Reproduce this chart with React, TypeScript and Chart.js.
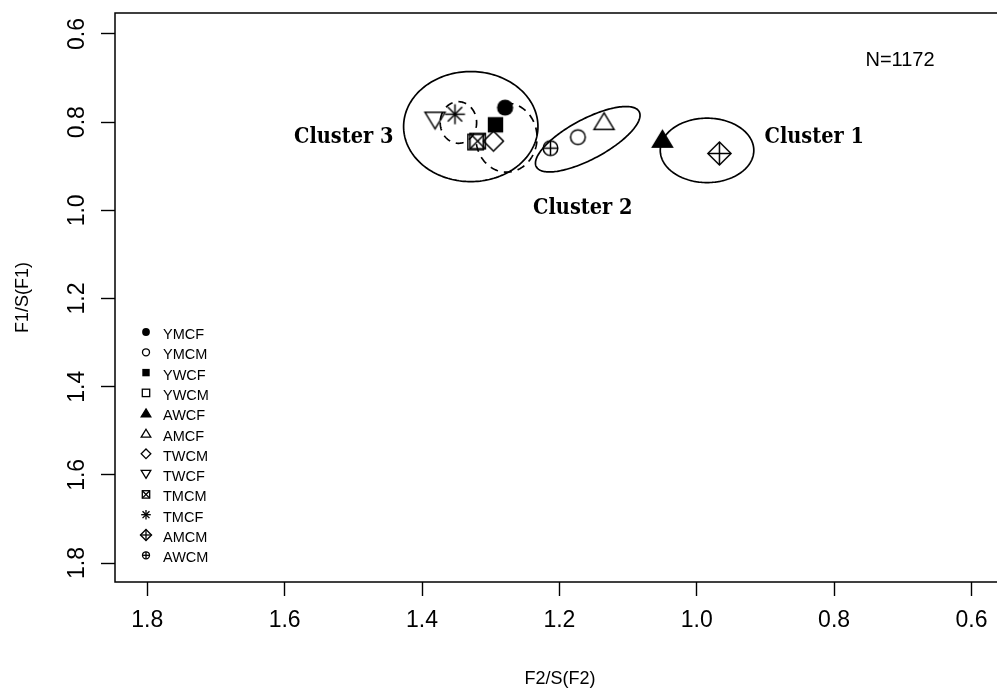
import React, { useEffect, useRef } from "react";
import { Chart, registerables } from "chart.js";

Chart.register(...registerables);

// Group means on the normalised formant plane
const groups = ["YMCF", "YMCM", "YWCF", "YWCM", "AWCF", "AMCF", "TWCM", "TWCF", "TMCM", "TMCF", "AMCM", "AWCM"];
const groupSymbols = ["dot", "circle", "squareFilled", "square", "triFilled", "tri", "diamond", "triDown", "boxX", "star", "diamondPlus", "circlePlus"];
const f2Values = [1.279, 1.173, 1.293, 1.322, 1.05, 1.135, 1.296, 1.381, 1.319, 1.352, 0.967, 1.213];
const f1Values = [0.767, 0.834, 0.806, 0.845, 0.839, 0.799, 0.843, 0.795, 0.843, 0.782, 0.871, 0.859];

// Cluster outlines: centre plus two conjugate semi-axes, all in data units,
// and the share of the turn that is traced
const ellipseCx = [0.985, 1.1587, 1.329, 1.347, 1.277];
const ellipseCy = [0.864, 0.8387, 0.81, 0.8008, 0.835];
const ellipseAx = [0.0681, -0.0749, 0.0978, 0.0265, 0.0445];
const ellipseAy = [0, -0.0624, 0, 0, 0];
const ellipseBx = [0, -0.0136, 0, 0, 0];
const ellipseBy = [0.073, 0.0401, 0.1248, 0.0472, 0.0783];
const ellipseFrom = [0, 0, 0, 0, 0.03];
const ellipseTo = [1, 1, 1, 1, 0.76];
const ellipseDashed = [false, false, false, true, true];

const clusterNames = ["Cluster 1", "Cluster 2", "Cluster 3"];
const clusterLabelX = [0.829, 1.166, 1.514];
const clusterLabelY = [0.835, 0.995, 0.835];

const xTicks = [1.8, 1.6, 1.4, 1.2, 1.0, 0.8, 0.6];
const yTicks = [0.6, 0.8, 1.0, 1.2, 1.4, 1.6, 1.8];
const xRange = [0.557, 1.847];
const yRange = [0.5524, 1.843];

const sampleNote = "N=1172";
const noteX = 0.704;
const noteY = 0.659;

const SANS = '"Liberation Sans", Arial, sans-serif';
const SERIF_BOLD = 'bold 21.5px "DejaVu Serif Condensed", "DejaVu Serif", serif';

function drawSymbol(ctx: CanvasRenderingContext2D, kind: string, x: number, y: number, s: number, lw: number) {
  ctx.save();
  ctx.strokeStyle = "#000";
  ctx.fillStyle = "#000";
  ctx.lineWidth = lw;
  ctx.lineJoin = "miter";
  const poly = (pts: number[][], fill: boolean) => {
    ctx.beginPath();
    pts.forEach((p, i) => (i ? ctx.lineTo(p[0], p[1]) : ctx.moveTo(p[0], p[1])));
    ctx.closePath();
    if (fill) ctx.fill();
    ctx.stroke();
  };
  const line = (x1: number, y1: number, x2: number, y2: number) => {
    ctx.beginPath();
    ctx.moveTo(x1, y1);
    ctx.lineTo(x2, y2);
    ctx.stroke();
  };
  const d = s * 1.3;
  switch (kind) {
    case "dot":
      ctx.beginPath();
      ctx.arc(x, y, s * 1.05, 0, Math.PI * 2);
      ctx.fill();
      break;
    case "circle":
      ctx.beginPath();
      ctx.arc(x, y, s * 0.95, 0, Math.PI * 2);
      ctx.stroke();
      break;
    case "squareFilled":
      ctx.fillRect(x - s, y - s, 2 * s, 2 * s);
      break;
    case "square":
      ctx.strokeRect(x - s, y - s, 2 * s, 2 * s);
      break;
    case "triFilled":
      poly([[x, y - 1.15 * s], [x + 1.3 * s, y + 1.0 * s], [x - 1.3 * s, y + 1.0 * s]], true);
      break;
    case "tri":
      poly([[x, y - 1.15 * s], [x + 1.3 * s, y + 1.0 * s], [x - 1.3 * s, y + 1.0 * s]], false);
      break;
    case "triDown":
      poly([[x, y + 1.15 * s], [x + 1.3 * s, y - 1.0 * s], [x - 1.3 * s, y - 1.0 * s]], false);
      break;
    case "diamond":
      poly([[x, y - d], [x + d, y], [x, y + d], [x - d, y]], false);
      break;
    case "boxX":
      ctx.strokeRect(x - s, y - s, 2 * s, 2 * s);
      line(x - s, y - s, x + s, y + s);
      line(x - s, y + s, x + s, y - s);
      break;
    case "star": {
      const r = s * 1.3;
      const q = r * 0.72;
      line(x - r, y, x + r, y);
      line(x, y - r, x, y + r);
      line(x - q, y - q, x + q, y + q);
      line(x - q, y + q, x + q, y - q);
      break;
    }
    case "diamondPlus": {
      const e = s * 1.5;
      poly([[x, y - e], [x + e, y], [x, y + e], [x - e, y]], false);
      line(x - e, y, x + e, y);
      line(x, y - e, x, y + e);
      break;
    }
    case "circlePlus":
      ctx.beginPath();
      ctx.arc(x, y, s * 0.95, 0, Math.PI * 2);
      ctx.stroke();
      line(x - s * 0.95, y, x + s * 0.95, y);
      line(x, y - s * 0.95, x, y + s * 0.95);
      break;
  }
  ctx.restore();
}

function symbolImage(kind: string, s: number, lw: number): HTMLCanvasElement {
  const size = Math.ceil(s * 3.4) + 4;
  const c = document.createElement("canvas");
  c.width = size;
  c.height = size;
  const g = c.getContext("2d")!;
  drawSymbol(g, kind, size / 2, size / 2, s, lw);
  return c;
}

const decorPlugin = {
  id: "decor",
  beforeDatasetsDraw(chart: any) {
    const { ctx } = chart;
    const xs = chart.scales.x;
    const ys = chart.scales.y;
    ctx.save();
    ctx.strokeStyle = "#000";
    ctx.lineWidth = 1.7;
    for (let i = 0; i < ellipseCx.length; i++) {
      ctx.setLineDash(ellipseDashed[i] ? [8, 6] : []);
      ctx.beginPath();
      const n = 180;
      const full = ellipseFrom[i] === 0 && ellipseTo[i] === 1;
      for (let k = 0; k <= n; k++) {
        const t = (ellipseFrom[i] + (ellipseTo[i] - ellipseFrom[i]) * (k / n)) * Math.PI * 2;
        const c = Math.cos(t);
        const sn = Math.sin(t);
        const px = xs.getPixelForValue(ellipseCx[i] + ellipseAx[i] * c + ellipseBx[i] * sn);
        const py = ys.getPixelForValue(ellipseCy[i] + ellipseAy[i] * c + ellipseBy[i] * sn);
        if (k === 0) ctx.moveTo(px, py);
        else ctx.lineTo(px, py);
      }
      if (full) ctx.closePath();
      ctx.stroke();
    }
    ctx.restore();
  },
  afterDraw(chart: any) {
    const { ctx, chartArea } = chart;
    const xs = chart.scales.x;
    const ys = chart.scales.y;
    ctx.save();
    // plot frame
    ctx.strokeStyle = "#000";
    ctx.lineWidth = 1.5;
    ctx.strokeRect(chartArea.left, chartArea.top, chartArea.right - chartArea.left, chartArea.bottom - chartArea.top);

    ctx.fillStyle = "#000";
    ctx.textAlign = "center";
    ctx.textBaseline = "middle";

    // tick labels
    ctx.font = `23px ${SANS}`;
    xTicks.forEach((v) => {
      ctx.fillText(v.toFixed(1), xs.getPixelForValue(v), chartArea.bottom + 39);
    });
    yTicks.forEach((v) => {
      ctx.save();
      ctx.translate(chartArea.left - 37, ys.getPixelForValue(v));
      ctx.rotate(-Math.PI / 2);
      ctx.fillText(v.toFixed(1), 0, 0);
      ctx.restore();
    });

    // axis titles
    ctx.font = `18px ${SANS}`;
    const midX = (xs.getPixelForValue(xRange[0]) + xs.getPixelForValue(xRange[1])) / 2;
    ctx.fillText("F2/S(F2)", midX + 2, chartArea.bottom + 97);
    ctx.save();
    ctx.translate(23, (chartArea.top + chartArea.bottom) / 2);
    ctx.rotate(-Math.PI / 2);
    ctx.fillText("F1/S(F1)", 0, 0);
    ctx.restore();

    // sample size note
    ctx.font = `20px ${SANS}`;
    ctx.fillText(sampleNote, xs.getPixelForValue(noteX), ys.getPixelForValue(noteY));

    // cluster labels
    ctx.font = SERIF_BOLD;
    clusterNames.forEach((name, i) => {
      ctx.fillText(name, xs.getPixelForValue(clusterLabelX[i]), ys.getPixelForValue(clusterLabelY[i]));
    });

    // key
    const lx = chartArea.left + 31;
    const ly = chartArea.top + 319;
    ctx.font = `14.5px ${SANS}`;
    ctx.textAlign = "left";
    groups.forEach((g, i) => {
      const y = ly + i * 20.3;
      drawSymbol(ctx, groupSymbols[i], lx, y, 3.7, 1.3);
      ctx.fillText(g, lx + 17, y + 3);
    });
    ctx.restore();
  },
};

export default function App() {
  const ref = useRef<HTMLCanvasElement | null>(null);

  useEffect(() => {
    if (!ref.current) return;
    const datasets = groups.map((g, i) => ({
      label: g,
      data: [{ x: f2Values[i], y: f1Values[i] }],
      pointStyle: symbolImage(groupSymbols[i], 7.7, 1.5),
      pointRadius: 8,
      showLine: false,
    }));

    const tickAxis = {
      display: true,
      drawOnChartArea: false,
      drawTicks: true,
      tickLength: 14,
      tickColor: "#000",
      tickWidth: 1.4,
    };

    const chart = new Chart(ref.current, {
      type: "scatter",
      data: { datasets },
      plugins: [decorPlugin],
      options: {
        animation: false,
        responsive: false,
        devicePixelRatio: 1,
        events: [],
        layout: { padding: { top: 13, right: 5, left: 0, bottom: 0 } },
        plugins: { legend: { display: false }, tooltip: { enabled: false } },
        scales: {
          x: {
            type: "linear",
            reverse: true,
            min: xRange[0],
            max: xRange[1],
            grid: tickAxis,
            border: { display: false },
            ticks: { display: false },
            afterBuildTicks: (s: any) => {
              s.ticks = xTicks.map((v) => ({ value: v }));
            },
            afterFit: (s: any) => {
              s.height = 111;
            },
          },
          y: {
            type: "linear",
            reverse: true,
            min: yRange[0],
            max: yRange[1],
            grid: tickAxis,
            border: { display: false },
            ticks: { display: false },
            afterBuildTicks: (s: any) => {
              s.ticks = yTicks.map((v) => ({ value: v }));
            },
            afterFit: (s: any) => {
              s.width = 115;
            },
          },
        },
      } as any,
    });
    return () => chart.destroy();
  }, []);

  return (
    <div style={{ position: "fixed", left: 0, top: 0, width: "100vw", height: "100vh", overflow: "hidden", background: "#fff" }}>
      <canvas ref={ref} width={1010} height={693} style={{ position: "absolute", left: 0, top: 0, width: 1010, height: 693 }} />
    </div>
  );
}
